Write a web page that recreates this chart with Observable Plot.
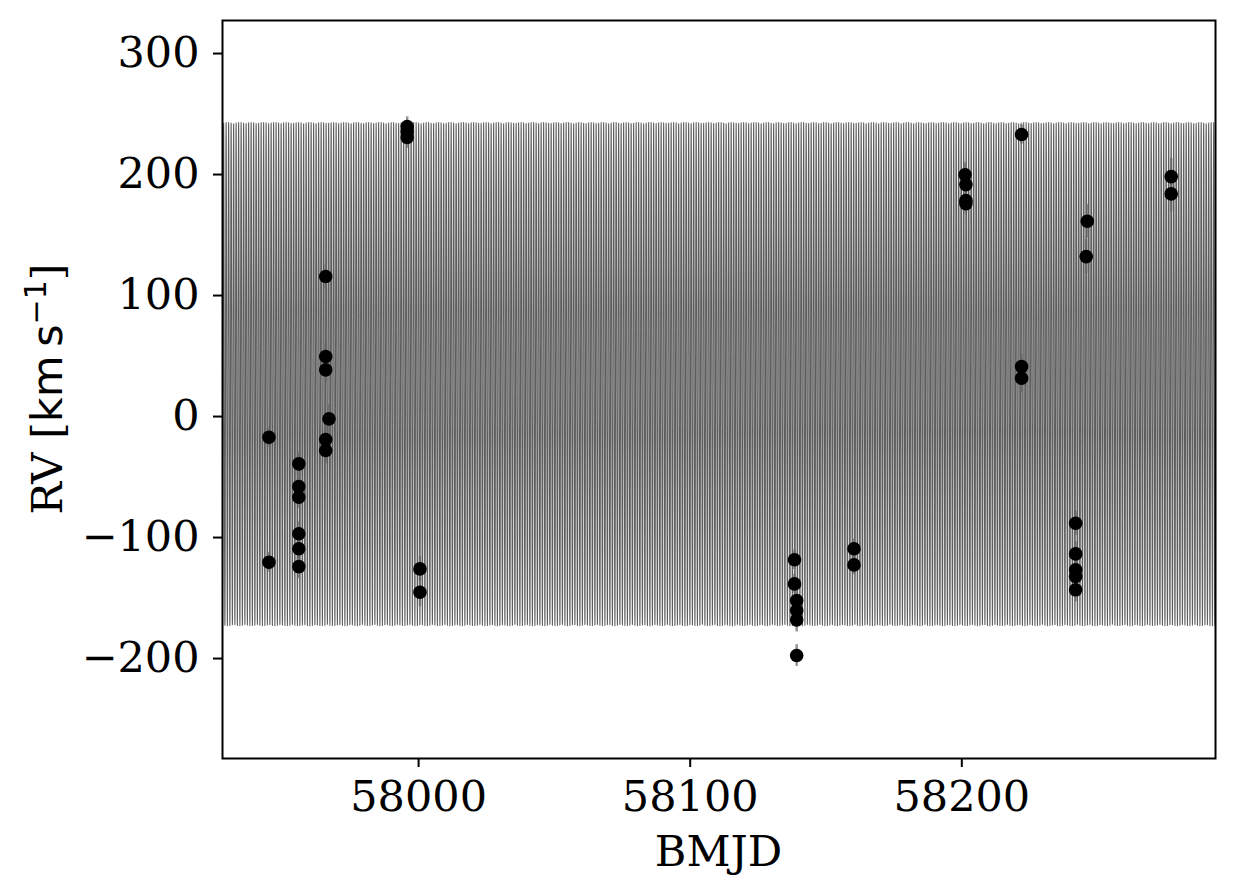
<!DOCTYPE html>
<html>
<head>
<meta charset="utf-8">
<script src="https://cdn.jsdelivr.net/npm/d3@7"></script>
<script src="https://cdn.jsdelivr.net/npm/@observablehq/plot@0.6"></script>
<style>
  html, body { margin: 0; padding: 0; background: #fff; }
  #chart svg { display: block; }
</style>
</head>
<body>
<div id="chart"></div>
<script>
// Observations (BMJD, RV in km/s, 1-sigma error)
const bmjd = [
  57944.9, 57944.9,
  57955.9, 57955.9, 57955.9, 57955.9, 57955.9, 57955.9,
  57965.8, 57965.8, 57965.8, 57965.8, 57965.8, 57967.0,
  57995.8, 57995.8, 57995.8,
  58000.5, 58000.5,
  58138.4, 58138.4, 58139.2, 58139.2, 58139.2, 58139.2,
  58160.3, 58160.3,
  58201.2, 58201.5, 58201.5, 58201.5,
  58222.0, 58222.0, 58222.0,
  58241.9, 58241.9, 58241.9, 58241.9, 58241.9,
  58246.2, 58245.8,
  58277.1, 58277.1
];
const rv = [
  -17.1, -120.4,
  -39.1, -57.9, -66.7, -96.9, -109.3, -124.0,
  115.7, 49.6, 38.6, -19.0, -28.1, -1.9,
  239.7, 235.5, 230.6,
  -125.9, -145.2,
  -118.4, -138.3, -152.1, -160.3, -168.0, -197.5,
  -109.3, -122.6,
  199.8, 191.7, 178.5, 176.0,
  233.1, 41.3, 31.7,
  -88.2, -113.5, -126.7, -132.2, -143.2,
  161.4, 132.2,
  198.3, 184.0
];
const rvErr = [
  8, 8,
  10, 9, 9, 10, 9, 10,
  10, 10, 10, 11, 11, 12,
  8, 8, 9,
  10, 12,
  8, 8, 10, 10, 10, 9,
  8, 8,
  10, 9, 9, 9,
  8, 10, 12,
  10, 10, 10, 10, 10,
  14, 14,
  15, 15
];

// Fitted circular-orbit model parameters
const MODEL_GAMMA = 35.1;    // km/s
const MODEL_K = 207.9;       // km/s
const MODEL_PERIOD = 0.9205; // days

// Axis ticks
const xTicks = [58000, 58100, 58200];
const yTicks = [-200, -100, 0, 100, 200, 300];

const xDomain = [57927.8, 58293.4];
const yDomain = [-282.6, 327.3];

const obs = bmjd.map((t, i) => ({t, rv: rv[i], lo: rv[i] - rvErr[i], hi: rv[i] + rvErr[i]}));

// model curve sampled finely over the plotted time span
const nModel = 12000;
const model = d3.range(nModel + 1).map(i => {
  const t = xDomain[0] + (xDomain[1] - xDomain[0]) * i / nModel;
  return {t, rv: MODEL_GAMMA + MODEL_K * Math.sin(2 * Math.PI * t / MODEL_PERIOD)};
});

const W = 1234, H = 896;
const mL = 222, mR = 19, mT = 20, mB = 138;
const FS = 43;

const plot = Plot.plot({
  width: W,
  height: H,
  marginLeft: mL,
  marginRight: mR,
  marginTop: mT,
  marginBottom: mB,
  style: {fontFamily: "'DejaVu Serif', serif", fontSize: FS + "px", background: "#fff", color: "#000"},
  x: {domain: xDomain, ticks: xTicks, tickFormat: "d", label: null},
  y: {domain: yDomain, ticks: yTicks, tickFormat: "d", label: null},
  marks: [
    Plot.line(model, {x: "t", y: "rv", stroke: "#5e5e5e", strokeWidth: 1.05, clip: true}),
    Plot.ruleX(obs, {x: "t", y1: "lo", y2: "hi", stroke: "#666", strokeOpacity: 0.7, strokeWidth: 2.5}),
    Plot.dot(obs, {x: "t", y: "rv", r: 6.8, fill: "black", stroke: "none"}),
    Plot.frame({stroke: "black", strokeWidth: 2}),
    Plot.axisX({ticks: xTicks, tickFormat: "d", tickSize: 9, tickPadding: 13, strokeWidth: 2, label: null, fontSize: FS}),
    Plot.axisY({ticks: yTicks, tickFormat: "d", tickSize: 9, tickPadding: 14, strokeWidth: 2, label: null, fontSize: FS})
  ]
});

document.getElementById("chart").appendChild(plot);

// Axis titles (with mathtext-like superscript)
const svg = d3.select(plot);
svg.append("text")
  .attr("x", mL + (W - mL - mR) / 2)
  .attr("y", 866)
  .attr("text-anchor", "middle")
  .style("font-family", "'DejaVu Serif', serif")
  .style("font-size", FS + "px")
  .attr("fill", "black")
  .text("BMJD");

const yl = svg.append("text")
  .attr("transform", `translate(62, ${mT + (H - mT - mB) / 2}) rotate(-90)`)
  .attr("text-anchor", "middle")
  .style("font-family", "'DejaVu Serif', serif")
  .style("font-size", FS + "px")
  .attr("fill", "black");
yl.append("tspan").text("RV [");
yl.append("tspan").style("font-family", "'DejaVu Sans', sans-serif").text("km\u2009s");
yl.append("tspan").style("font-family", "'DejaVu Sans', sans-serif").style("font-size", "30px").attr("dy", "-16").text("\u22121");
yl.append("tspan").attr("dy", "16").text("]");
</script>
</body>
</html>
